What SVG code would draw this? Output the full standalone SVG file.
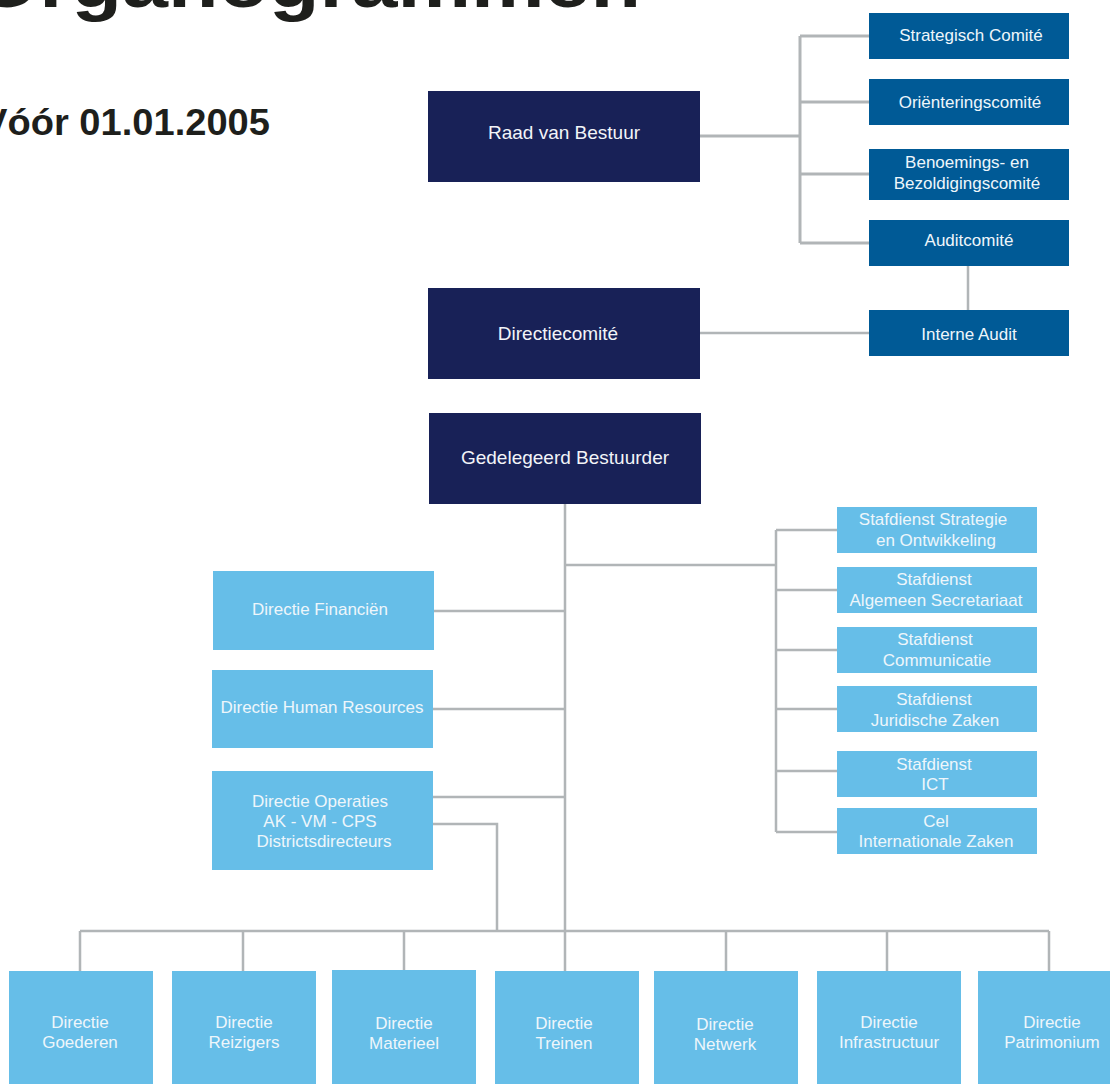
<svg xmlns="http://www.w3.org/2000/svg" width="1110" height="1084" viewBox="0 0 1110 1084">
<style>
.title{font-family:"Liberation Sans",Arial,sans-serif;font-weight:bold;fill:#1e1f1c}
.t{font-family:"Liberation Sans",Arial,sans-serif;font-size:17px;fill:#eef6fb;text-anchor:middle}
.td{font-family:"Liberation Sans",Arial,sans-serif;font-size:19px;fill:#f2f4f8;text-anchor:middle}
.navy{fill:#182157}
.mid{fill:#005a96}
.light{fill:#66bee8}
.c{stroke:#b1b5b7;fill:none;stroke-width:2.5}
.ct{stroke:#b1b5b7;fill:none;stroke-width:3}
</style>
<rect width="1110" height="1084" fill="#ffffff"/>
<text class="title" x="-25" y="7" font-size="72" textLength="666" lengthAdjust="spacingAndGlyphs">Organogrammen</text>
<text class="title" x="-18" y="135" font-size="36" textLength="288" lengthAdjust="spacingAndGlyphs">Vóór 01.01.2005</text>

<g id="connectors">
<path class="ct" d="M700 136 H800 M800 36 V243 M800 36 H869 M800 102 H869 M800 174 H869 M800 243 H869"/>
<path class="c" d="M968 266 V310 M700 333 H869"/>
<path class="c" d="M565 504 V971 M565 565 H776 M776 530 V832 M776 530 H837 M776 590 H837 M776 650 H837 M776 709 H837 M776 771 H837 M776 832 H837"/>
<path class="c" d="M434 611 H565 M433 709 H565 M433 797 H565 M433 824 H497 V931"/>
<path class="c" d="M80 931 H1049 M80 931 V971 M243 931 V971 M404 931 V970 M726 931 V971 M887 931 V971 M1049 931 V971"/>
</g>

<g id="raad"><rect class="navy" x="428" y="91" width="272" height="91"/><text class="td" x="564" y="139">Raad van Bestuur</text></g>
<g id="directiecomite"><rect class="navy" x="428" y="288" width="272" height="91"/><text class="td" x="558" y="340">Directiecomité</text></g>
<g id="gedelegeerd"><rect class="navy" x="429" y="413" width="272" height="91"/><text class="td" x="565" y="464">Gedelegeerd Bestuurder</text></g>

<g id="strategisch"><rect class="mid" x="869" y="13" width="200" height="46"/><text class="t" x="971" y="41">Strategisch Comité</text></g>
<g id="orienterings"><rect class="mid" x="869" y="79" width="200" height="46"/><text class="t" x="970" y="108">Oriënteringscomité</text></g>
<g id="benoemings"><rect class="mid" x="869" y="149" width="200" height="51"/><text class="t" x="967" y="168">Benoemings- en</text><text class="t" x="967" y="189">Bezoldigingscomité</text></g>
<g id="auditcomite"><rect class="mid" x="869" y="220" width="200" height="46"/><text class="t" x="969" y="246">Auditcomité</text></g>
<g id="interne-audit"><rect class="mid" x="869" y="310" width="200" height="46"/><text class="t" x="969" y="340">Interne Audit</text></g>

<g id="stafdienst-strategie"><rect class="light" x="837" y="507" width="200" height="46"/><text class="t" x="933" y="525">Stafdienst Strategie</text><text class="t" x="936" y="546">en Ontwikkeling</text></g>
<g id="stafdienst-secretariaat"><rect class="light" x="837" y="567" width="200" height="46"/><text class="t" x="934" y="585">Stafdienst</text><text class="t" x="936" y="606">Algemeen Secretariaat</text></g>
<g id="stafdienst-communicatie"><rect class="light" x="837" y="627" width="200" height="46"/><text class="t" x="935" y="645">Stafdienst</text><text class="t" x="937" y="666">Communicatie</text></g>
<g id="stafdienst-juridisch"><rect class="light" x="837" y="686" width="200" height="46"/><text class="t" x="934" y="705">Stafdienst</text><text class="t" x="935" y="726">Juridische Zaken</text></g>
<g id="stafdienst-ict"><rect class="light" x="837" y="751" width="200" height="46"/><text class="t" x="934" y="770">Stafdienst</text><text class="t" x="935" y="790">ICT</text></g>
<g id="cel-internationaal"><rect class="light" x="837" y="808" width="200" height="46"/><text class="t" x="936" y="827">Cel</text><text class="t" x="936" y="847">Internationale Zaken</text></g>

<g id="financien"><rect class="light" x="213" y="571" width="221" height="79"/><text class="t" x="320" y="615">Directie Financiën</text></g>
<g id="human-resources"><rect class="light" x="212" y="670" width="221" height="78"/><text class="t" x="322" y="713">Directie Human Resources</text></g>
<g id="operaties"><rect class="light" x="212" y="771" width="221" height="99"/><text class="t" x="320" y="807">Directie Operaties</text><text class="t" x="320" y="827">AK - VM - CPS</text><text class="t" x="324" y="847">Districtsdirecteurs</text></g>

<g id="goederen"><rect class="light" x="9" y="971" width="144" height="113"/><text class="t" x="80" y="1028">Directie</text><text class="t" x="80" y="1048">Goederen</text></g>
<g id="reizigers"><rect class="light" x="172" y="971" width="144" height="113"/><text class="t" x="244" y="1028">Directie</text><text class="t" x="244" y="1048">Reizigers</text></g>
<g id="materieel"><rect class="light" x="332" y="970" width="144" height="114"/><text class="t" x="404" y="1029">Directie</text><text class="t" x="404" y="1049">Materieel</text></g>
<g id="treinen"><rect class="light" x="495" y="971" width="144" height="113"/><text class="t" x="564" y="1029">Directie</text><text class="t" x="564" y="1049">Treinen</text></g>
<g id="netwerk"><rect class="light" x="654" y="971" width="144" height="113"/><text class="t" x="725" y="1030">Directie</text><text class="t" x="725" y="1050">Netwerk</text></g>
<g id="infrastructuur"><rect class="light" x="817" y="971" width="144" height="113"/><text class="t" x="889" y="1028">Directie</text><text class="t" x="889" y="1048">Infrastructuur</text></g>
<g id="patrimonium"><rect class="light" x="978" y="971" width="144" height="113"/><text class="t" x="1052" y="1028">Directie</text><text class="t" x="1052" y="1048">Patrimonium</text></g>
</svg>
